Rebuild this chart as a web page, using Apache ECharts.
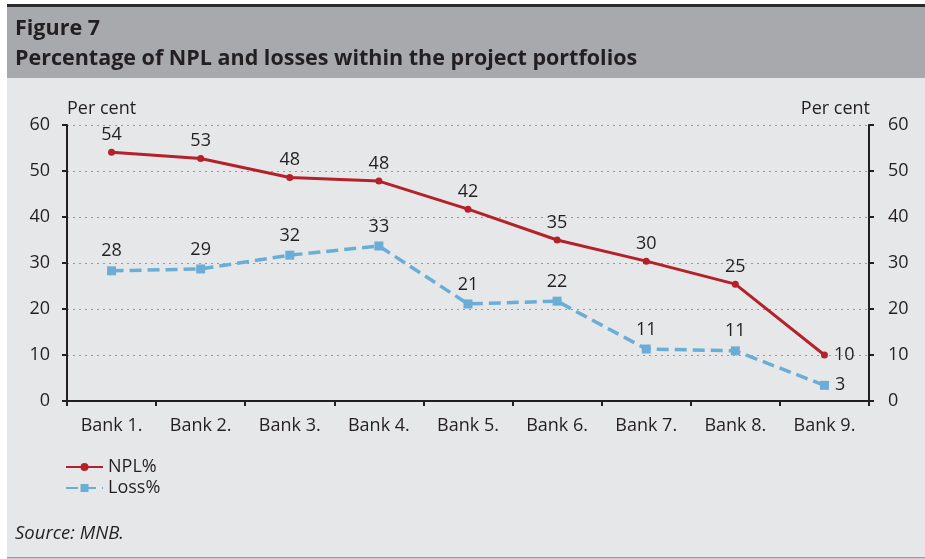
<!DOCTYPE html>
<html><head><meta charset="utf-8">
<script src="https://cdn.jsdelivr.net/npm/echarts@6/dist/echarts.min.js"></script>
<style>html,body{margin:0;padding:0;background:#fff}#c{width:925px;height:559px}</style>
</head><body><div id="c"></div>
<script>
const categories = ['Bank 1.', 'Bank 2.', 'Bank 3.', 'Bank 4.', 'Bank 5.', 'Bank 6.', 'Bank 7.', 'Bank 8.', 'Bank 9.'];
const npl = [54.1, 52.7, 48.6, 47.8, 41.7, 35.0, 30.4, 25.4, 10.0];
const loss = [28.3, 28.7, 31.7, 33.7, 21.1, 21.7, 11.3, 10.9, 3.4];
const nplLabels = ['54', '53', '48', '48', '42', '35', '30', '25', '10'];
const lossLabels = ['28', '29', '32', '33', '21', '22', '11', '11', '3'];
const seriesNames = ['NPL%', 'Loss%'];
const titleLines = ['Figure 7', 'Percentage of NPL and losses within the project portfolios'];
const unitLabel = 'Per cent';
const sourceText = 'Source: MNB.';

const FONT = '"Open Sans", "Noto Sans", sans-serif';
const TXT = '#231f20';
const RED = '#b5212a';
const BLUE = '#6aaed8';
const FS = 18;

const chart = echarts.init(document.getElementById('c'), null, {renderer: 'canvas'});

function lbl(arr, lastRight) {
  return arr.map((v, i) => ({
    value: v,
    label: (i === arr.length - 1 && lastRight) ? {position: 'right', distance: 6} : {}
  }));
}

const yAxisCommon = {
  type: 'value', min: 0, max: 60, interval: 10,
  axisLine: {show: true, lineStyle: {color: TXT, width: 2}},
  axisTick: {show: true, length: 5, lineStyle: {color: TXT, width: 2}},
  axisLabel: {color: TXT, fontSize: FS, fontFamily: FONT, margin: 17},
  splitLine: {show: false}
};

chart.setOption({
  animation: false,
  backgroundColor: '#ffffff',
  graphic: [
    {type: 'rect', shape: {x: 7, y: 7, width: 918, height: 550}, style: {fill: '#e6e7e9'}, z: -10},
    {type: 'rect', shape: {x: 7, y: 7, width: 918, height: 71}, style: {fill: '#a7a9ac'}, z: -9},
    {type: 'rect', shape: {x: 7, y: 4, width: 918, height: 3}, style: {fill: '#2b2b2b'}, z: -8},
    {type: 'rect', shape: {x: 7, y: 557, width: 918, height: 1.5}, style: {fill: '#9a9a9a'}, z: -8},
    {type: 'text', left: 15, top: 18, style: {text: titleLines[0], font: 'bold 21.5px ' + FONT, fill: TXT}},
    {type: 'text', left: 15, top: 48, style: {text: titleLines[1], font: 'bold 21.5px ' + FONT, fill: TXT}},
    {type: 'text', left: 67, top: 100, style: {text: unitLabel, font: FS + 'px ' + FONT, fill: TXT}},
    {type: 'text', right: 55, top: 100, style: {text: unitLabel, font: FS + 'px ' + FONT, fill: TXT, align: 'right'}},
    {type: 'text', left: 15, top: 524, style: {text: sourceText, font: 'italic 18.5px ' + FONT, fill: TXT}}
  ],
  grid: {left: 67, right: 56, top: 125, bottom: 158},
  legend: {
    orient: 'vertical', left: 65, top: 458, itemGap: 3, padding: 0,
    itemWidth: 37, itemHeight: 10,
    textStyle: {color: TXT, fontSize: FS, fontFamily: FONT},
    data: seriesNames
  },
  xAxis: {
    type: 'category', data: categories, boundaryGap: true,
    axisLine: {lineStyle: {color: TXT, width: 2}},
    axisTick: {show: true, length: 5, lineStyle: {color: TXT, width: 2}},
    axisLabel: {color: TXT, fontSize: FS, fontFamily: FONT, margin: 16}
  },
  yAxis: [
    Object.assign({}, yAxisCommon, {position: 'left',
      splitLine: {show: true, lineStyle: {color: '#999999', type: [2, 4], width: 1.2}}}),
    Object.assign({}, yAxisCommon, {position: 'right', axisLabel: Object.assign({}, yAxisCommon.axisLabel, {margin: 19})})
  ],
  series: [
    {
      name: seriesNames[0], type: 'line', data: lbl(npl, true),
      symbol: 'circle', symbolSize: 7,
      lineStyle: {color: RED, width: 3}, itemStyle: {color: RED},
      label: {show: true, position: 'top', distance: 5, color: TXT, fontSize: FS, fontFamily: FONT,
        formatter: p => nplLabels[p.dataIndex]},
      z: 3
    },
    {
      name: seriesNames[1], type: 'line', data: lbl(loss, true),
      symbol: 'rect', symbolSize: 9,
      lineStyle: {color: BLUE, width: 3.5, type: [12, 6]}, itemStyle: {color: BLUE},
      label: {show: true, position: 'top', distance: 6, color: TXT, fontSize: FS, fontFamily: FONT,
        formatter: p => lossLabels[p.dataIndex]},
      z: 2
    }
  ]
});
</script></body></html>
